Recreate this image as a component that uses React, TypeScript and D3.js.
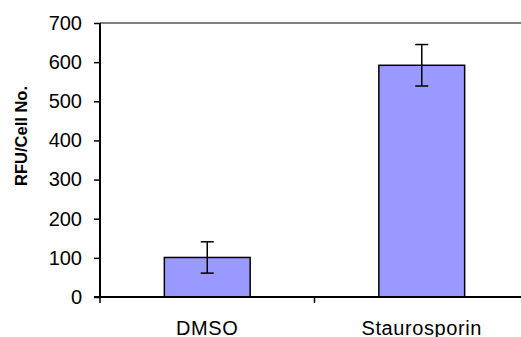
import { useEffect, useRef } from 'react';
import * as d3 from 'd3';

const categories = ['DMSO', 'Staurosporin'];
const values = [101, 592];
const errors = [40, 53];
const yTicks = [0, 100, 200, 300, 400, 500, 600, 700];

const App = () => {
  const svgRef = useRef<SVGSVGElement>(null);

  useEffect(() => {
    const width = 521;
    const height = 337;
    const left = 100;
    const top = 23;
    const bottom = 297;

    const svg = d3.select(svgRef.current).attr('width', width).attr('height', height);
    svg.selectAll('*').remove();

    const x = d3.scaleBand().domain(categories).range([left, 529]).padding(0);
    const y = d3.scaleLinear().domain([0, 700]).range([bottom, top]);
    const barW = x.bandwidth() * 0.4;
    const font = 'Arial, "Liberation Sans", sans-serif';

    // top border of plot area
    svg
      .append('line')
      .attr('x1', left)
      .attr('x2', width)
      .attr('y1', y(700))
      .attr('y2', y(700))
      .attr('stroke', '#808080')
      .attr('stroke-width', 2);

    const data = categories.map((c, i) => ({ c, v: values[i], e: errors[i] }));

    svg
      .selectAll('rect.bar')
      .data(data)
      .enter()
      .append('rect')
      .attr('class', 'bar')
      .attr('x', (d) => x(d.c)! + x.bandwidth() / 2 - barW / 2)
      .attr('y', (d) => y(d.v))
      .attr('width', barW)
      .attr('height', (d) => y(0) - y(d.v))
      .attr('fill', '#9999FF')
      .attr('stroke', '#000')
      .attr('stroke-width', 1.5);

    const err = svg.append('g').attr('stroke', '#000').attr('stroke-width', 1.5);
    data.forEach((d) => {
      const cx = x(d.c)! + x.bandwidth() / 2;
      err.append('line').attr('x1', cx).attr('x2', cx).attr('y1', y(d.v - d.e)).attr('y2', y(d.v + d.e));
      [d.v - d.e, d.v + d.e].forEach((v) => {
        err.append('line').attr('x1', cx - 6.5).attr('x2', cx + 6.5).attr('y1', y(v)).attr('y2', y(v));
      });
    });

    // y axis
    const yAxis = svg
      .append('g')
      .attr('transform', `translate(${left},0)`)
      .call(d3.axisLeft(y).tickValues(yTicks).tickSize(6).tickPadding(12).tickFormat(d3.format('d')));
    yAxis.select('.domain').attr('stroke', '#000').attr('stroke-width', 2).attr('d', `M0,${top}V${bottom}`);
    yAxis.selectAll('line').attr('stroke', '#000').attr('stroke-width', 1.5);
    yAxis.selectAll('text').style('font-family', font).style('font-size', '20px').attr('fill', '#000');

    // x axis
    svg
      .append('line')
      .attr('x1', left - 6)
      .attr('x2', width)
      .attr('y1', bottom)
      .attr('y2', bottom)
      .attr('stroke', '#000')
      .attr('stroke-width', 2);
    [left, x('Staurosporin')!].forEach((tx) => {
      svg
        .append('line')
        .attr('x1', tx)
        .attr('x2', tx)
        .attr('y1', bottom)
        .attr('y2', bottom + 6)
        .attr('stroke', '#000')
        .attr('stroke-width', 1.5);
    });

    svg
      .selectAll('text.cat')
      .data(categories)
      .enter()
      .append('text')
      .attr('class', 'cat')
      .attr('x', (d) => x(d)! + x.bandwidth() / 2)
      .attr('y', 335)
      .attr('text-anchor', 'middle')
      .style('font-family', font)
      .style('font-size', '20px')
      .style('letter-spacing', '0.6px')
      .text((d) => d);

    svg
      .append('text')
      .attr('transform', 'translate(27,136) rotate(-90)')
      .attr('text-anchor', 'middle')
      .style('font-family', font)
      .style('font-size', '16.5px')
      .style('font-weight', 'bold')
      .text('RFU/Cell No.');
  }, []);

  return (
    <div>
      <svg ref={svgRef} style={{ position: 'absolute', left: 0, top: 0 }}></svg>
    </div>
  );
};

export default App;
